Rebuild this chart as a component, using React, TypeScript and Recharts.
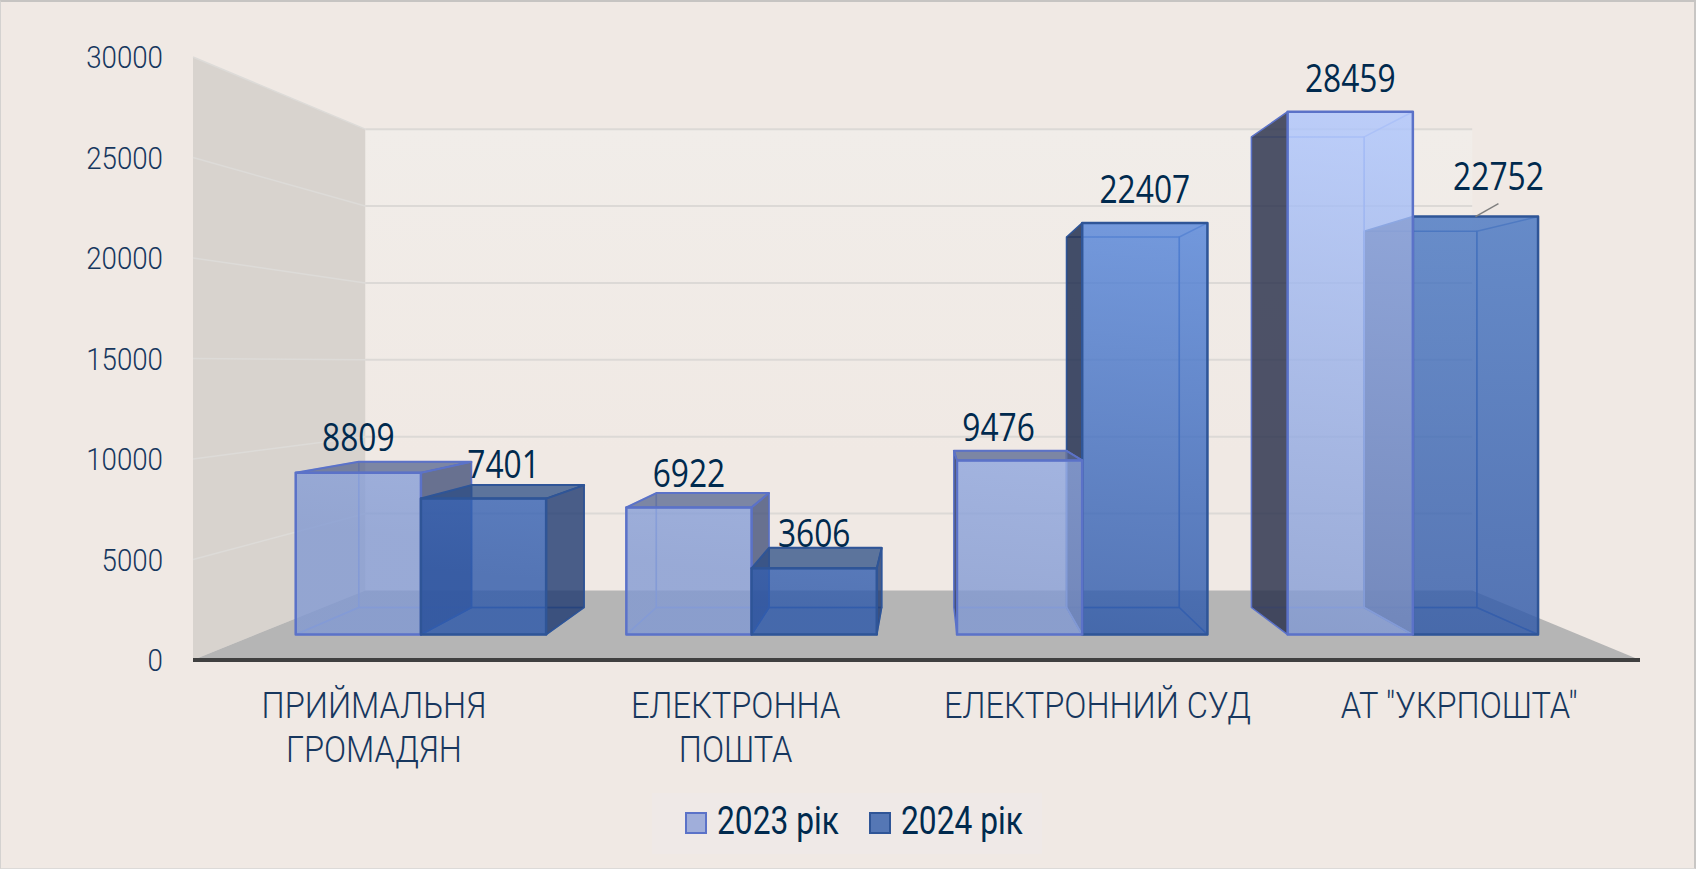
import { BarChart, Bar, XAxis, YAxis, ReferenceArea, LabelList, Legend } from "recharts";

const categories = ["ПРИЙМАЛЬНЯ\nГРОМАДЯН", "ЕЛЕКТРОННА\nПОШТА", "ЕЛЕКТРОННИЙ СУД", 'АТ "УКРПОШТА"'];
const values2023 = [8809, 6922, 9476, 28459];
const values2024 = [7401, 3606, 22407, 22752];
const yTicks = [0, 5000, 10000, 15000, 20000, 25000, 30000];

// The 2023 box sits behind its neighbour left of the vanishing point and in front of it on the right
const rows = categories.map((name, i) => ({
  name,
  near2023: i < 2 ? values2023[i] : null,
  far2023: i < 2 ? null : values2023[i],
  y2024: values2024[i],
}));

// label nudges: [dx, lift above the box]
const NUDGE_2023 = [[0, 25], [0, 21], [-21, 24], [0, 34]];
const NUDGE_2024 = [[20, 22], [0, 16], [0, 35], [23, 41]];

// fake perspective: everything is scaled towards one vanishing point
const VP_X = 926;
const VP_Y = 364;
const S_FRONT = 0.914;
const S_BACK = 0.8226;
const S_WALL = 0.765;

const project = (x: number, y: number, s: number) => [VP_X + (x - VP_X) * s, VP_Y + (y - VP_Y) * s];
const pts = (list: number[][]) => list.map((p) => p.join(",")).join(" ");

const INK = "#17375e";
const LABEL_INK = "#002a4e";

const LOOK_2023 = {
  fronts: ["url(#front2023)", "url(#front2023)", "url(#front2023)", "url(#front2023)"],
  edge: "#5b72c8",
  inner: "#8ea2e4",
  top: "#56648f",
  right: "#46527a",
  left: "#282f4b",
};
const LOOK_2024 = {
  fronts: ["url(#front2024)", "url(#front2024)", "url(#front2024)", "url(#front2024far)"],
  edge: "#2f5597",
  inner: "#3f69b4",
  top: "#2b4c84",
  right: "#1f3a70",
  left: "#1b2a4c",
};

function Cond({ x, y, size, sx, anchor = "middle", fill = INK, family = "Roboto", weight = 300, children }: any) {
  return (
    <text
      transform={`translate(${x},${y}) scale(${sx},1)`}
      textAnchor={anchor}
      dominantBaseline="central"
      fontFamily={family}
      fontWeight={weight}
      fontSize={size}
      fill={fill}
    >
      {children}
    </text>
  );
}

function Walls({ x, y, width, height }: any) {
  const bottom = y + height;
  const right = x + width;
  const wallTop = project(x, y, S_WALL);
  const wallBottom = project(x, bottom, S_WALL);
  const floorRight = project(right, bottom, S_WALL);
  const topRight = project(right, y, S_WALL);
  return (
    <g>
      <polygon points={pts([wallTop, topRight, floorRight, wallBottom])} fill="url(#backWall)" />
      <polygon points={pts([[x, y], wallTop, wallBottom, [x, bottom]])} fill="#d8d3ce" />
      <polygon points={pts([[x, bottom], wallBottom, floorRight, [right, bottom]])} fill="#b5b5b5" />
      {yTicks.slice(1).map((t) => {
        const ty = bottom - (t / 30000) * height;
        const back = project(x, ty, S_WALL);
        const end = project(right, ty, S_WALL);
        return (
          <g key={t}>
            <line x1={x} y1={ty} x2={back[0]} y2={back[1]} stroke="#dddbd8" strokeWidth={1.5} />
            <line x1={back[0]} y1={back[1]} x2={end[0]} y2={end[1]} stroke="#dcd9d6" strokeWidth={2} />
          </g>
        );
      })}
    </g>
  );
}

function Box3D({ x, y, width, height, index, look }: any) {
  if (!height) return null;
  const [fx1, fyT] = project(x, y, S_FRONT);
  const [fx2, fyB] = project(x + width, y + height, S_FRONT);
  const [bx1, byT] = project(x, y, S_BACK);
  const [bx2, byB] = project(x + width, y + height, S_BACK);
  const topFace = pts([[fx1, fyT], [fx2, fyT], [bx2, byT], [bx1, byT]]);
  const leftFace = pts([[fx1, fyT], [bx1, byT], [bx1, byB], [fx1, fyB]]);
  const rightFace = pts([[fx2, fyT], [bx2, byT], [bx2, byB], [fx2, fyB]]);
  const floorFace = pts([[fx1, fyB], [fx2, fyB], [bx2, byB], [bx1, byB]]);
  const showLeft = bx1 < fx1;
  const showRight = bx2 > fx2;
  const showTop = byT < fyT;
  return (
    <g strokeLinejoin="round">
      <polygon points={floorFace} fill={look.inner} fillOpacity={0.1} stroke={look.inner} strokeOpacity={0.7} strokeWidth={1.5} />
      <rect x={bx1} y={byT} width={bx2 - bx1} height={byB - byT} fill="none" stroke={look.inner} strokeOpacity={0.8} strokeWidth={1.5} />
      {!showLeft && <polygon points={leftFace} fill="none" stroke={look.inner} strokeOpacity={0.7} strokeWidth={1.5} />}
      {!showRight && <polygon points={rightFace} fill={look.inner} fillOpacity={0.06} stroke={look.inner} strokeOpacity={0.7} strokeWidth={1.5} />}
      {showLeft && <polygon points={leftFace} fill={look.left} fillOpacity={0.82} stroke={look.edge} strokeWidth={1.5} />}
      {showRight && <polygon points={rightFace} fill={look.right} fillOpacity={0.8} stroke={look.edge} strokeWidth={1.5} />}
      {showTop && <polygon points={topFace} fill={look.top} fillOpacity={0.75} stroke={look.edge} strokeWidth={2} />}
      <rect x={fx1} y={fyT} width={fx2 - fx1} height={fyB - fyT} fill={look.fronts[index]} stroke={look.edge} strokeWidth={2.5} />
    </g>
  );
}

function BarLabel({ x, y, width, value, index, nudge }: any) {
  const v = Array.isArray(value) ? value[1] - value[0] : value;
  if (!v) return null;
  const [fx1, fyT] = project(x, y, S_FRONT);
  const [fx2] = project(x + width, y, S_FRONT);
  const [, byT] = project(x, y, S_BACK);
  const [dx, lift] = nudge[index];
  const cx = (fx1 + fx2) / 2;
  const edgeY = Math.min(fyT, byT);
  const cy = edgeY - lift;
  return (
    <g>
      {lift >= 40 && <line x1={cx} y1={edgeY} x2={cx + dx} y2={edgeY - 13} stroke="#7f7f7f" strokeWidth={1.5} />}
      <Cond x={cx + dx} y={cy} size={38} sx={0.835} fill={LABEL_INK} family="Open Sans" weight={400}>
        {v}
      </Cond>
    </g>
  );
}

function CategoryTick({ x, y, payload }: any) {
  const lines = String(payload.value).split("\n");
  return (
    <g>
      {lines.map((line, i) => (
        <Cond key={line} x={x} y={y + 37 + i * 44.5} size={37.5} sx={0.87}>
          {line}
        </Cond>
      ))}
    </g>
  );
}

function ValueTick({ x, y, payload }: any) {
  return (
    <Cond x={x} y={y} size={32} sx={0.866} anchor="end">
      {payload.value}
    </Cond>
  );
}

function LegendBox({ payload }: any) {
  const shown = (payload ?? []).filter((p: any) => p.type !== "none");
  const edges: Record<string, string> = { "2023 рік": LOOK_2023.edge, "2024 рік": LOOK_2024.edge };
  return (
    <svg width={390} height={61} style={{ display: "block" }}>
      <rect width={390} height={61} fill="#efe9e7" />
      {shown.map((p: any, i: number) => (
        <g key={p.value} transform={`translate(${33 + i * 184},19)`}>
          <rect x={1} y={1} width={20} height={20} fill={p.color} stroke={edges[p.value]} strokeWidth={2} />
          <Cond x={32} y={10} size={38} sx={0.835} anchor="start" fill={LABEL_INK} weight={400}>
            {p.value}
          </Cond>
        </g>
      ))}
    </svg>
  );
}

export default function App() {
  return (
    <div style={{ position: "absolute", left: 0, top: 0, width: 1696, height: 869, background: "#f0e9e4", overflow: "hidden" }}>
      <BarChart
        width={1696}
        height={869}
        data={rows}
        margin={{ top: 57, right: 56, bottom: 79, left: 93 }}
        barCategoryGap="12%"
        barGap={0}
      >
        <defs>
          <linearGradient id="backWall" x1="0" y1="0" x2="0" y2="1">
            <stop offset="0" stopColor="#f1ede9" />
            <stop offset="0.7" stopColor="#f0e9e4" />
          </linearGradient>
          <linearGradient id="front2023" gradientUnits="userSpaceOnUse" x1={1300} y1={634} x2={1357} y2={111}>
            <stop offset="0" stopColor="#8098d2" stopOpacity={0.78} />
            <stop offset="1" stopColor="#adc5fe" stopOpacity={0.78} />
          </linearGradient>
          <linearGradient id="front2024" gradientUnits="userSpaceOnUse" x1={1100} y1={634} x2={1140} y2={216}>
            <stop offset="0" stopColor="#2d58a9" stopOpacity={0.8} />
            <stop offset="1" stopColor="#5585da" stopOpacity={0.8} />
          </linearGradient>
          <linearGradient id="front2024far" gradientUnits="userSpaceOnUse" x1={1476} y1={634} x2={1476} y2={216}>
            <stop offset="0" stopColor="#3059a8" stopOpacity={0.8} />
            <stop offset="1" stopColor="#4675c2" stopOpacity={0.8} />
          </linearGradient>
        </defs>
        <XAxis
          dataKey="name"
          interval={0}
          height={130}
          tickLine={false}
          axisLine={{ stroke: "#404040", strokeWidth: 4 }}
          tick={<CategoryTick />}
        />
        <YAxis
          width={100}
          domain={[0, 30000]}
          ticks={yTicks}
          tickLine={false}
          axisLine={false}
          tickMargin={24}
          tick={<ValueTick />}
        />
        <ReferenceArea y1={0} y2={30000} shape={<Walls />} />
        <Bar
          dataKey="near2023"
          name="2023 рік"
          stackId="a"
          fill="#a0aeda"
          isAnimationActive={false}
          shape={(p: any) => <Box3D {...p} look={LOOK_2023} />}
        >
          <LabelList dataKey="near2023" content={(p: any) => <BarLabel {...p} nudge={NUDGE_2023} />} />
        </Bar>
        <Bar
          dataKey="y2024"
          name="2024 рік"
          stackId="b"
          fill="#5577b5"
          isAnimationActive={false}
          shape={(p: any) => <Box3D {...p} look={LOOK_2024} />}
        >
          <LabelList dataKey="y2024" content={(p: any) => <BarLabel {...p} nudge={NUDGE_2024} />} />
        </Bar>
        <Bar
          dataKey="far2023"
          name="2023 рік"
          stackId="a"
          fill="#a0aeda"
          legendType="none"
          isAnimationActive={false}
          shape={(p: any) => <Box3D {...p} look={LOOK_2023} />}
        >
          <LabelList dataKey="far2023" content={(p: any) => <BarLabel {...p} nudge={NUDGE_2023} />} />
        </Bar>
        <Legend
          verticalAlign="middle"
          align="center"
          wrapperStyle={{ left: 652, top: 793, width: 390, height: 61 }}
          content={<LegendBox />}
        />
      </BarChart>
      <div
        style={{
          position: "absolute",
          inset: 0,
          boxSizing: "border-box",
          borderTop: "2px solid #c6c4c2",
          borderRight: "2px solid #c8c6c4",
          borderLeft: "1px solid #d4d2d0",
          borderBottom: "1px solid #dcdad8",
          pointerEvents: "none",
        }}
      />
    </div>
  );
}
